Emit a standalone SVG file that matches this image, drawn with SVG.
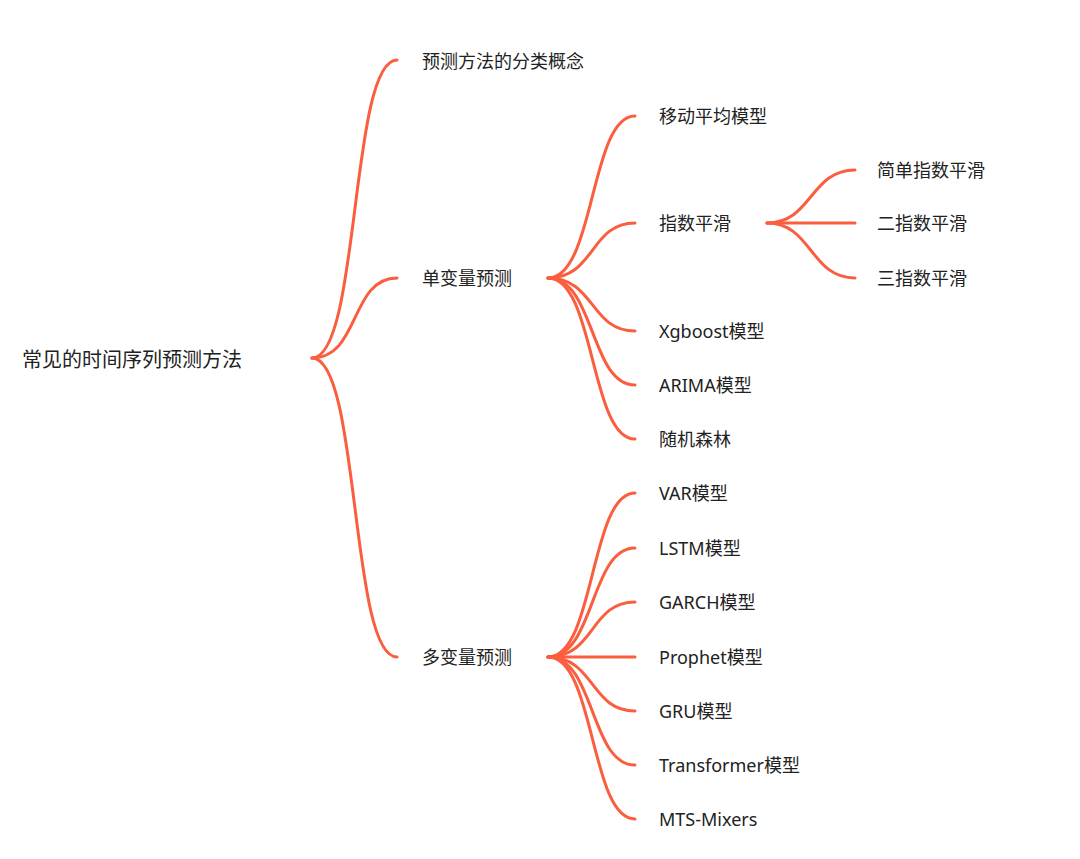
<svg xmlns="http://www.w3.org/2000/svg" width="1080" height="859" viewBox="0 0 1080 859">
<style>
.c{fill:none;stroke:#FA5E3F;stroke-width:3;stroke-linecap:round}
text{font-family:"Noto Sans","Noto Sans CJK SC",sans-serif;fill:#222;dominant-baseline:central}
.n{font-size:18px}
.r{font-size:20px}
</style>
<rect width="1080" height="859" fill="#fff"/>
<g id="connectors">
<path class="c" d="M312 358 C360 358 350 60 397 60"/>
<path class="c" d="M312 358 C360 358 350 278 397 278"/>
<path class="c" d="M312 358 C360 358 350 657 397 657"/>
<path class="c" d="M548 278 C595 278 590 116 635 116"/>
<path class="c" d="M548 278 C595 278 590 223 635 223"/>
<path class="c" d="M548 278 C595 278 590 331 635 331"/>
<path class="c" d="M548 278 C595 278 590 385 635 385"/>
<path class="c" d="M548 278 C595 278 590 439 635 439"/>
<path class="c" d="M548 657 C595 657 590 493 635 493"/>
<path class="c" d="M548 657 C595 657 590 548 635 548"/>
<path class="c" d="M548 657 C595 657 590 602 635 602"/>
<path class="c" d="M548 657 L635 657"/>
<path class="c" d="M548 657 C595 657 590 711 635 711"/>
<path class="c" d="M548 657 C595 657 590 765 635 765"/>
<path class="c" d="M548 657 C595 657 590 819 635 819"/>
<path class="c" d="M767 223 C812 223 810 170 855 170"/>
<path class="c" d="M767 223 L855 223"/>
<path class="c" d="M767 223 C812 223 810 278 855 278"/>
</g>
<g id="root"><text class="r" x="22" y="359">常见的时间序列预测方法</text></g>
<g id="n1"><text class="n" x="422" y="61">预测方法的分类概念</text></g>
<g id="n2"><text class="n" x="422" y="278">单变量预测</text></g>
<g id="n3"><text class="n" x="422" y="657">多变量预测</text></g>
<g id="n21"><text class="n" x="659" y="116">移动平均模型</text></g>
<g id="n22"><text class="n" x="659" y="223">指数平滑</text></g>
<g id="n23"><text class="n" x="659" y="331">Xgboost模型</text></g>
<g id="n24"><text class="n" x="659" y="385">ARIMA模型</text></g>
<g id="n25"><text class="n" x="659" y="439">随机森林</text></g>
<g id="n221"><text class="n" x="877" y="170">简单指数平滑</text></g>
<g id="n222"><text class="n" x="877" y="223">二指数平滑</text></g>
<g id="n223"><text class="n" x="877" y="278">三指数平滑</text></g>
<g id="n31"><text class="n" x="659" y="493">VAR模型</text></g>
<g id="n32"><text class="n" x="659" y="548">LSTM模型</text></g>
<g id="n33"><text class="n" x="659" y="602">GARCH模型</text></g>
<g id="n34"><text class="n" x="659" y="657">Prophet模型</text></g>
<g id="n35"><text class="n" x="659" y="711">GRU模型</text></g>
<g id="n36"><text class="n" x="659" y="765">Transformer模型</text></g>
<g id="n37"><text class="n" x="659" y="819">MTS-Mixers</text></g>
</svg>
